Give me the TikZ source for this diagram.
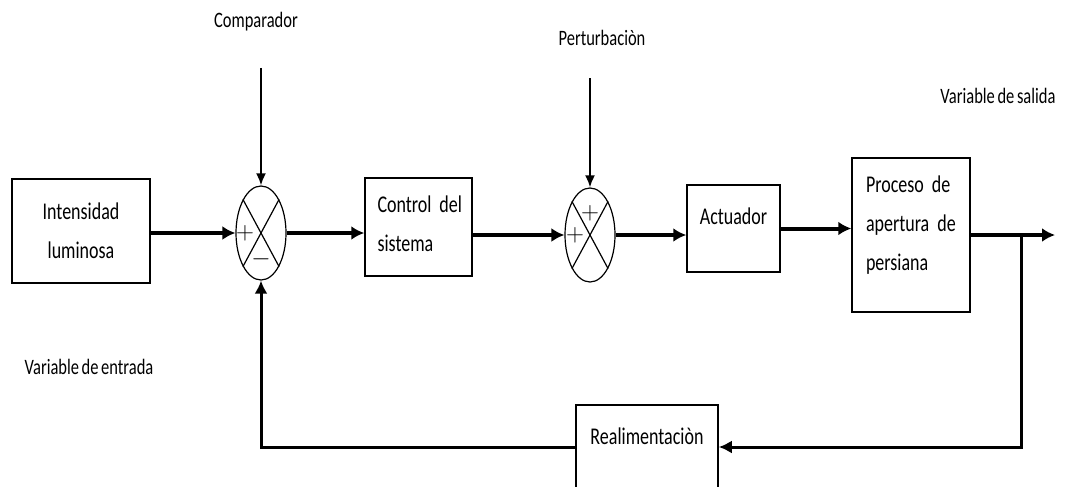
\documentclass[tikz,border=0pt]{standalone}
\usepackage{fontspec}
\setmainfont{Carlito}[FakeStretch=0.75,WordSpace=0.7]
\usetikzlibrary{arrows.meta,shapes.geometric}

\begin{document}
\begin{tikzpicture}[x=1pt,y=-1pt]
        % Define styles
        \tikzset{
            block/.style={rectangle, draw, line width=1.5pt, inner sep=0pt, font=\fontsize{24}{39}\selectfont},
            summer/.style={ellipse, draw, line width=1.2pt, minimum width=50pt, minimum height=94pt, inner sep=0pt},
            sign/.style={inner sep=0pt, font=\fontsize{24}{24}\selectfont},
            caption/.style={inner sep=0pt, font=\fontsize{22}{26}\selectfont},
            signal/.style={line width=4pt, -{Latex[length=13pt,width=14pt]}},
            feed/.style={line width=3pt, -{Latex[length=13pt,width=13pt]}},
            input/.style={line width=2pt, -{Latex[length=12pt,width=10pt]}}
        }
        \useasboundingbox (0,0) rectangle (1068,487);

        % Nodes
        \node[block, minimum width=138pt, minimum height=104pt, align=center] (intensidad) at (81,231) {Intensidad\\luminosa};
        \node[summer] (sum_1) at (261,233) {};
        \node[block, minimum width=107pt, minimum height=98pt, text width=82pt, align=left, text height=17pt, text depth=47pt] (control) at (418.5,227) {\mbox{Control del}\\sistema};
        \node[summer] (sum_2) at (590,235) {};
        \node[block, minimum width=93pt, minimum height=87pt, text depth=24pt] (actuador) at (733.5,228.5) {Actuador};
        \node[block, minimum width=118pt, minimum height=154pt, text width=90pt, align=left, text height=17pt, text depth=103pt] (proceso) at (911,235) {\mbox{Proceso de}\\\mbox{apertura de}\\persiana};
        \node[block, minimum width=142pt, minimum height=84pt, text depth=21pt] (realim) at (647,447) {Realimentaciòn};

        % signs in the summing points
        \node[sign] (sum_1_in) at ([xshift=-16pt]sum_1.center) {$+$};
        \node[sign] (sum_1_fb) at ([yshift=-26pt]sum_1.center) {$-$};
        \node[sign] (sum_2_in) at ([xshift=-15pt]sum_2.center) {$+$};
        \node[sign] (sum_2_up) at ([yshift=22pt]sum_2.center) {$+$};

        % Labels
        \node[caption] (comparador) at (256,22) {Comparador};
        \node[caption] (perturbacion) at (602,38) {Perturbaciòn};
        \node[caption] (salida) at (998,96) {Variable de salida};
        \node[caption] (entrada) at (89,367) {Variable de entrada};

        \coordinate (cmp_in) at (261,68);
        \coordinate (pert_in) at (590,78);
        \coordinate (out) at (1055,235);
        \coordinate (branch) at (1021,235);

        % Arrows
        \draw[line width=1.2pt] (sum_1.north west) -- (sum_1.south east);
        \draw[line width=1.2pt] (sum_1.north east) -- (sum_1.south west);
        \draw[line width=1.2pt] (sum_2.north west) -- (sum_2.south east);
        \draw[line width=1.2pt] (sum_2.north east) -- (sum_2.south west);

        \draw[signal] (sum_1.west -| intensidad.east) -- (sum_1.west);
        \draw[input] (cmp_in) -- (sum_1.north);
        \draw[signal] (sum_1.east) -- (sum_1.east -| control.west);
        \draw[signal] (sum_2.west -| control.east) -- (sum_2.west);
        \draw[input] (pert_in) -- (sum_2.north);
        \draw[signal] (sum_2.east) -- (sum_2.east -| actuador.west);
        \draw[signal] (actuador.east) -- (actuador.east -| proceso.west);
        \draw[signal] (proceso.east) -- (out);
        \draw[feed] (branch) |- (realim.east);
        \draw[feed] (realim.west) -| (sum_1.south);
    \end{tikzpicture}
\end{document}
